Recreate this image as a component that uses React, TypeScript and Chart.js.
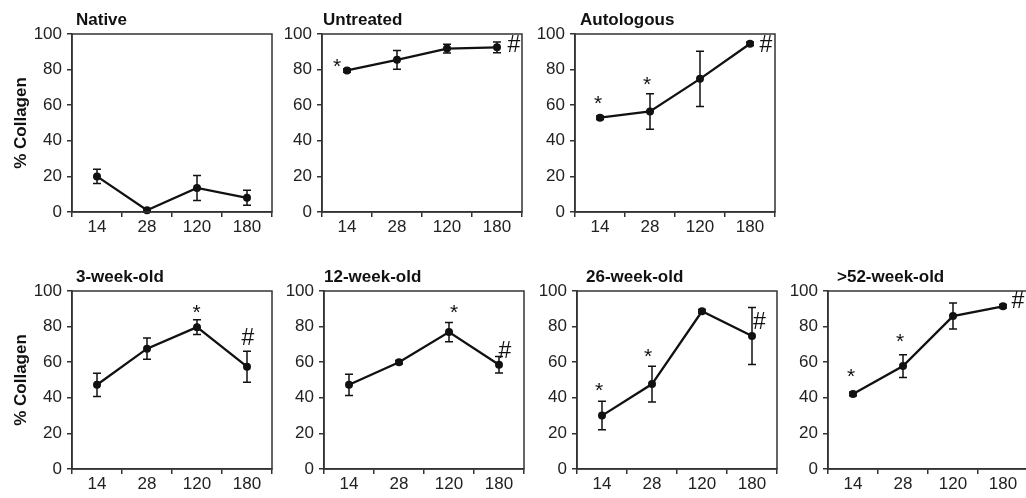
import React, { useEffect, useRef } from "react";
import { Chart, registerables } from "chart.js";

Chart.register(...registerables);

// ---------- data ----------
const days = ["14", "28", "120", "180"];
const yTickValues = [0, 20, 40, 60, 80, 100];
const yAxisTitle = "% Collagen";

const titles = ["Native", "Untreated", "Autologous", "3-week-old", "12-week-old", "26-week-old", ">52-week-old"];

const nativeMean = [20, 1, 13.5, 8];
const nativeErr = [4, 0.8, 7, 4.2];
const untreatedMean = [79.5, 85.5, 91.8, 92.5];
const untreatedErr = [1, 5.3, 2.5, 3];
const autologousMean = [53, 56.5, 74.8, 94.5];
const autologousErr = [1, 10, 15.5, 1];
const week3Mean = [47.3, 67.6, 79.7, 57.5];
const week3Err = [6.5, 6, 4.2, 8.7];
const week12Mean = [47.3, 60, 76.9, 58.6];
const week12Err = [6, 1, 5.4, 4.6];
const week26Mean = [30, 47.7, 88.6, 74.7];
const week26Err = [8, 10, 1, 16];
const week52Mean = [42.2, 57.8, 85.9, 91.4];
const week52Err = [1, 6.4, 7.3, 1];

// significance marks: [symbol, category position, value]
const nativeMarks: [string, number, number][] = [];
const untreatedMarks: [string, number, number][] = [["*", -0.2, 83.8], ["#", 3.34, 94.5]];
const autologousMarks: [string, number, number][] = [["*", -0.04, 62.8], ["*", 0.94, 73.4], ["#", 3.32, 94.5]];
const week3Marks: [string, number, number][] = [["*", 1.99, 89.8], ["#", 3.02, 74.2]];
const week12Marks: [string, number, number][] = [["*", 2.1, 89.7], ["#", 3.12, 67.2]];
const week26Marks: [string, number, number][] = [["*", -0.06, 45.8], ["*", 0.92, 64.9], ["#", 3.15, 83.2]];
const week52Marks: [string, number, number][] = [["*", -0.04, 53.8], ["*", 0.94, 73.4], ["#", 3.3, 95]];

// ---------- styling / layout ----------
const INK = "#111111";
const AXIS = "#333333";
const LABEL = "#222222";
const FAMILY = "'Liberation Sans', Arial, Helvetica, sans-serif";
const YSCALE_W = 72;
const CANVAS_W = 276;
const CANVAS_H = 252;
const PAD_TOP = 34;
const XSCALE_H = 40;

type PanelCfg = {
  title: string;
  mean: number[];
  err: number[];
  marks: [string, number, number][];
  plotLeft: number;
  top: number;
  titleDx: number;
  yTitle: boolean;
};

const panels: PanelCfg[] = [
  { title: titles[0], mean: nativeMean, err: nativeErr, marks: nativeMarks, plotLeft: 72, top: 0, titleDx: 4, yTitle: true },
  { title: titles[1], mean: untreatedMean, err: untreatedErr, marks: untreatedMarks, plotLeft: 322, top: 0, titleDx: 1, yTitle: false },
  { title: titles[2], mean: autologousMean, err: autologousErr, marks: autologousMarks, plotLeft: 575, top: 0, titleDx: 5, yTitle: false },
  { title: titles[3], mean: week3Mean, err: week3Err, marks: week3Marks, plotLeft: 72, top: 257, titleDx: 4, yTitle: true },
  { title: titles[4], mean: week12Mean, err: week12Err, marks: week12Marks, plotLeft: 324, top: 257, titleDx: 0, yTitle: false },
  { title: titles[5], mean: week26Mean, err: week26Err, marks: week26Marks, plotLeft: 577, top: 257, titleDx: 9, yTitle: false },
  { title: titles[6], mean: week52Mean, err: week52Err, marks: week52Marks, plotLeft: 828, top: 257, titleDx: 9, yTitle: false },
];

function makeDecor(cfg: PanelCfg) {
  return {
    id: "decor",
    beforeDatasetsDraw(chart: any) {
      const { ctx, scales } = chart;
      const x = scales.x;
      const y = scales.y;
      ctx.save();
      ctx.strokeStyle = INK;
      ctx.lineWidth = 1.5;
      cfg.mean.forEach((m, i) => {
        const px = x.getPixelForValue(i);
        const t = y.getPixelForValue(m + cfg.err[i]);
        const b = y.getPixelForValue(m - cfg.err[i]);
        ctx.beginPath();
        ctx.moveTo(px, t);
        ctx.lineTo(px, b);
        ctx.moveTo(px - 4, t);
        ctx.lineTo(px + 4, t);
        ctx.moveTo(px - 4, b);
        ctx.lineTo(px + 4, b);
        ctx.stroke();
      });
      ctx.restore();
    },
    afterDraw(chart: any) {
      const { ctx, chartArea: a, scales } = chart;
      const x = scales.x;
      const y = scales.y;
      ctx.save();
      // frame
      ctx.strokeStyle = AXIS;
      ctx.lineWidth = 1.5;
      ctx.strokeRect(a.left, a.top, a.right - a.left, a.bottom - a.top);
      // panel title
      ctx.fillStyle = INK;
      ctx.font = `bold 17px ${FAMILY}`;
      ctx.textAlign = "left";
      ctx.textBaseline = "alphabetic";
      ctx.fillText(cfg.title, a.left + cfg.titleDx, a.top - 9);
      // significance marks
      cfg.marks.forEach(([sym, pos, val]) => {
        ctx.font = sym === "#" ? `23px ${FAMILY}` : `21px ${FAMILY}`;
        ctx.textAlign = "center";
        ctx.textBaseline = "alphabetic";
        const mt = ctx.measureText(sym);
        const cx = x.getPixelForValue(pos);
        const cy = y.getPixelForValue(val);
        const base = cy + (mt.actualBoundingBoxAscent - mt.actualBoundingBoxDescent) / 2;
        ctx.fillText(sym, cx, base);
      });
      ctx.restore();
    },
  };
}

function Panel({ cfg }: { cfg: PanelCfg }) {
  const ref = useRef<HTMLCanvasElement>(null);
  useEffect(() => {
    const chart = new Chart(ref.current as HTMLCanvasElement, {
      type: "line",
      data: {
        labels: days,
        datasets: [
          {
            data: cfg.mean,
            borderColor: INK,
            borderWidth: 2.3,
            pointRadius: 4,
            pointBackgroundColor: INK,
            pointBorderWidth: 0,
            pointHoverRadius: 4,
            tension: 0,
            fill: false,
            clip: false as any,
          },
        ],
      },
      plugins: [makeDecor(cfg)],
      options: {
        animation: false,
        responsive: false,
        devicePixelRatio: 1,
        events: [],
        layout: { padding: { top: PAD_TOP, right: CANVAS_W - YSCALE_W - 200, left: 0, bottom: 0 } },
        plugins: { legend: { display: false }, tooltip: { enabled: false }, title: { display: false } },
        scales: {
          x: {
            type: "category",
            offset: true,
            grid: { offset: true, drawOnChartArea: false, drawTicks: true, tickLength: 5, color: AXIS, lineWidth: 1.5 },
            border: { display: true, color: AXIS, width: 1.5 },
            ticks: { font: { family: FAMILY, size: 17 }, color: LABEL, padding: 0, maxRotation: 0, autoSkip: false },
            afterFit: (s: any) => {
              s.height = XSCALE_H;
            },
          },
          y: {
            type: "linear",
            min: 0,
            max: 100,
            afterBuildTicks: (s: any) => {
              s.ticks = yTickValues.map((v) => ({ value: v }));
            },
            grid: { drawOnChartArea: false, drawTicks: true, tickLength: 5, color: AXIS, lineWidth: 1.5 },
            border: { display: true, color: AXIS, width: 1.5 },
            ticks: { font: { family: FAMILY, size: 17 }, color: LABEL, padding: 5 },
            title: {
              display: cfg.yTitle,
              text: yAxisTitle,
              color: INK,
              font: { family: FAMILY, size: 17, weight: "bold" },
              padding: { top: 11, bottom: 0 },
            },
            afterFit: (s: any) => {
              s.width = YSCALE_W;
            },
          },
        },
      } as any,
    });
    return () => chart.destroy();
  }, [cfg]);
  return (
    <div style={{ position: "absolute", left: cfg.plotLeft - YSCALE_W, top: cfg.top, width: CANVAS_W, height: CANVAS_H }}>
      <canvas ref={ref} width={CANVAS_W} height={CANVAS_H} style={{ width: CANVAS_W, height: CANVAS_H, display: "block" }} />
    </div>
  );
}

export default function App() {
  return (
    <div style={{ position: "absolute", left: 0, top: 0, width: 1026, height: 498, overflow: "hidden", background: "#ffffff" }}>
      {panels.map((p, i) => (
        <Panel key={i} cfg={p} />
      ))}
    </div>
  );
}
